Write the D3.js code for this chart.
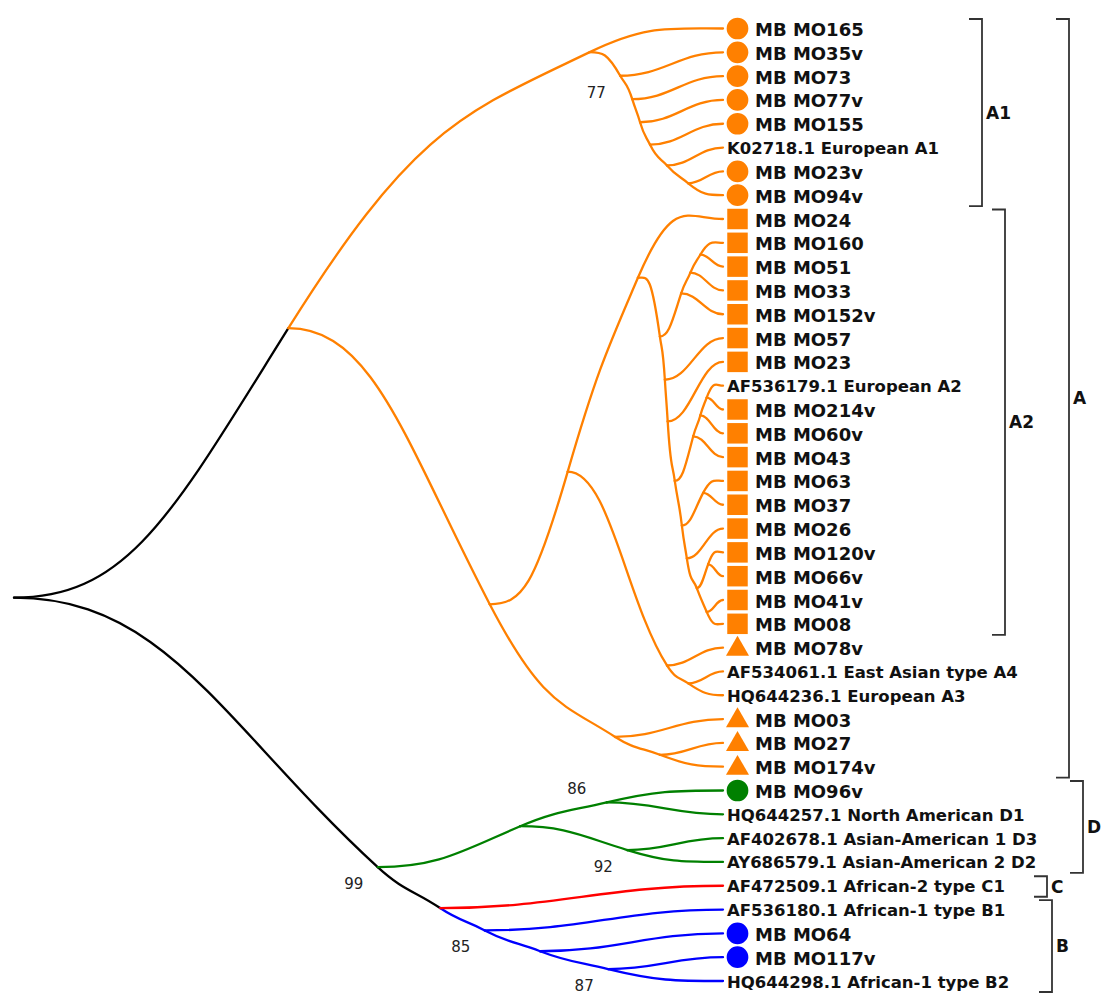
<!DOCTYPE html>
<html><head><meta charset="utf-8">
<script src="https://cdn.jsdelivr.net/npm/d3@7"></script>
<style>html,body{margin:0;padding:0;background:#fff}svg{display:block}</style>
</head><body>
<svg id="chart" width="1102" height="995"></svg>
<script>
// ---------------- DATA ----------------
const leafNames = ["MB MO165","MB MO35v","MB MO73","MB MO77v","MB MO155","K02718.1 European A1","MB MO23v","MB MO94v",
"MB MO24","MB MO160","MB MO51","MB MO33","MB MO152v","MB MO57","MB MO23","AF536179.1 European A2",
"MB MO214v","MB MO60v","MB MO43","MB MO63","MB MO37","MB MO26","MB MO120v","MB MO66v","MB MO41v","MB MO08",
"MB MO78v","AF534061.1 East Asian type A4","HQ644236.1 European A3","MB MO03","MB MO27","MB MO174v",
"MB MO96v","HQ644257.1 North American D1","AF402678.1 Asian-American 1 D3","AY686579.1 Asian-American 2 D2",
"AF472509.1 African-2 type C1","AF536180.1 African-1 type B1","MB MO64","MB MO117v","HQ644298.1 African-1 type B2"];
const leafMarkers = ["circle","circle","circle","circle","circle","","circle","circle",
"square","square","square","square","square","square","square","",
"square","square","square","square","square","square","square","square","square","square",
"triangle","","","triangle","triangle","triangle",
"circle","","","",
"","","circle","circle",""];
const leafClade = ["A","A","A","A","A","A","A","A",
"A","A","A","A","A","A","A","A","A","A","A","A","A","A","A","A","A","A",
"A","A","A","A","A","A",
"D","D","D","D",
"C","B","B","B","B"];
const cladeColors = {A:"#ff8000", D:"#008000", C:"#ff0000", B:"#0000ff", backbone:"#000000"};

// internal nodes: N(depth from root in % of tip depth, children, bootstrap support, label side)
function N(depth, children, support, side){
  return {depth, support, side, children: children.map(c => typeof c === "number" ? {leaf:c} : c)};
}
const tree = N(0, [
  N(38.7, [
    N(81.2, [0, N(85.5, [1, N(87.2, [2, N(88.3, [3, N(89.7, [4, N(92.1, [5, N(95.1, [6, 7])])])])])], 77)]),
    N(67.1, [
      N(78.1, [
        N(88.0, [8,
          N(91.1, [
            N(94.1, [N(95.4, [N(96.8, [9, 10]), 11]), 12]),
            N(91.8, [13,
              N(92.2, [14,
                N(93.2, [
                  N(95.8, [N(96.8, [N(97.7, [15, 16]), 17]), 18]),
                  N(94.2, [
                    N(97.2, [19, 20]),
                    N(94.9, [21,
                      N(96.3, [N(97.9, [22, 23]), N(97.7, [24, 25])])
                    ])
                  ])
                ])
              ])
            ])
          ])
        ]),
        N(92.1, [26, N(95.1, [27, 28])])
      ]),
      N(84.8, [29, N(91.1, [30, 31])])
    ])
  ]),
  N(51.3, [
    N(71.4, [N(83.6, [32, 33], 86, "above"), N(86.5, [34, 35], 92)]),
    N(60.1, [36, N(66.4, [37, N(74.2, [38, N(83.8, [39, 40], 87)])], 85)])
  ], 99)
]);

const clades = ["A1","A2","A","D","C","B"];
const cladeFirst = [0, 8, 0, 32, 36, 37];
const cladeLast  = [7, 25, 31, 35, 36, 40];

// ---------------- LAYOUT / STYLE ----------------
const bracketX = [982, 1005, 1069, 1083, 1047, 1052];
const svg = d3.select("#chart");
svg.append("rect").attr("width",1102).attr("height",995).attr("fill","#fff");

const xS = d3.scaleLinear().domain([0,100]).range([14,723]);
const yS = d3.scaleLinear().domain([0, leafNames.length-1]).range([28.5, 981]);

const root = d3.hierarchy(tree, d => d.children);
root.eachAfter(n => {
  if (!n.children) { n.x = xS(100); n.y = yS(n.data.leaf); }
  else { n.x = xS(n.data.depth); n.y = (n.children[0].y + n.children[n.children.length-1].y)/2; }
});

function linkColor(c){
  if (!c.parent || !c.parent.parent) return cladeColors.backbone;
  const cl = new Set(c.leaves().map(l => leafClade[l.data.leaf]));
  return cl.size === 1 ? cladeColors[[...cl][0]] : cladeColors.backbone;
}
function cont(n){ return n.y < n.parent.y ? n.children[0] : n.children[n.children.length-1]; }

// chains: smooth runs that start flat at a branching node and end flat at a tip
const chains = [];
root.each(n => {
  if (!n.children) return;
  n.children.forEach(c => {
    if (n.parent && c === cont(n)) return;
    const ch = [n]; let cur = c;
    while (true) { ch.push(cur); if (!cur.children) break; cur = cont(cur); }
    chains.push(ch);
  });
});

function tangents(p){
  const n = p.length - 1, m = new Array(n+1).fill(0);
  if (n < 2) return m;
  const h = [], s = [];
  for (let i=0;i<n;i++){ h.push(p[i+1].x-p[i].x); s.push((p[i+1].y-p[i].y)/h[i]); }
  const a=[],b=[],c=[],d=[];
  for (let i=1;i<n;i++){
    a.push(h[i]); b.push(2*(h[i-1]+h[i])); c.push(h[i-1]); d.push(3*(h[i]*s[i-1]+h[i-1]*s[i]));
  }
  const k = b.length;
  for (let i=1;i<k;i++){ const w = a[i]/b[i-1]; b[i] -= w*c[i-1]; d[i] -= w*d[i-1]; }
  const x = new Array(k);
  x[k-1] = d[k-1]/b[k-1];
  for (let i=k-2;i>=0;i--) x[i] = (d[i]-c[i]*x[i+1])/b[i];
  for (let i=1;i<n;i++) m[i] = x[i-1]*1.2;
  return m;
}

const gLinks = svg.append("g").attr("fill","none").attr("stroke-width",2.3).attr("stroke-linecap","round");
const K = 0.42;
chains.forEach(ch => {
  const m = tangents(ch);
  for (let i=0;i<ch.length-1;i++){
    const P = ch[i], C = ch[i+1], dx = C.x-P.x;
    const path = d3.path();
    path.moveTo(P.x, P.y);
    path.bezierCurveTo(P.x+K*dx, P.y+K*dx*m[i], C.x-K*dx, C.y-K*dx*m[i+1], C.x, C.y);
    gLinks.append("path").attr("d", path.toString()).attr("stroke", linkColor(C));
  }
});

// markers and labels
const leaves = root.leaves();
const gLeaf = svg.append("g");
const symbolTypes = {circle:d3.symbolCircle, square:d3.symbolSquare, triangle:d3.symbolTriangle};
const symbolSizes = {circle:370, square:420, triangle:230};
leaves.forEach(l => {
  const i = l.data.leaf, mk = leafMarkers[i];
  if (mk) {
    gLeaf.append("path")
      .attr("d", d3.symbol().type(symbolTypes[mk]).size(symbolSizes[mk])())
      .attr("transform", `translate(${l.x+14.5},${l.y + (mk==="triangle"?1.5:0)})`)
      .attr("fill", cladeColors[leafClade[i]]);
  }
  gLeaf.append("text")
    .attr("x", l.x + (mk ? 32 : 4)).attr("y", l.y + 1)
    .attr("dominant-baseline","central")
    .attr("font-family","'DejaVu Sans', Verdana, sans-serif")
    .attr("font-weight","bold")
    .attr("font-size", mk ? 18 : 16.5)
    .attr("fill","#111")
    .text(leafNames[i]);
});

// bootstrap supports
root.descendants().filter(n => n.data.support).forEach(n => {
  const above = n.data.side === "above";
  svg.append("text")
    .attr("x", n.x + (above ? -30 : -24)).attr("y", n.y + (above ? -13 : 17))
    .attr("text-anchor","middle").attr("dominant-baseline","central")
    .attr("font-family","'DejaVu Sans', Verdana, sans-serif")
    .attr("font-size",15).attr("fill","#222")
    .text(n.data.support);
});

// clade brackets
const gBr = svg.append("g");
clades.forEach((name, j) => {
  const bx = bracketX[j], y0 = yS(cladeFirst[j]) - 9.5, y1 = yS(cladeLast[j]) + 11;
  gBr.append("path")
    .attr("d", `M${bx-13},${y0}H${bx}V${y1}H${bx-13}`)
    .attr("fill","none").attr("stroke","#333").attr("stroke-width",1.8);
  gBr.append("text")
    .attr("x", bx + 4).attr("y", (y0+y1)/2)
    .attr("dominant-baseline","central")
    .attr("font-family","'DejaVu Sans', Verdana, sans-serif")
    .attr("font-weight","bold").attr("font-size",17).attr("fill","#111")
    .text(name);
});
</script>
</body></html>
